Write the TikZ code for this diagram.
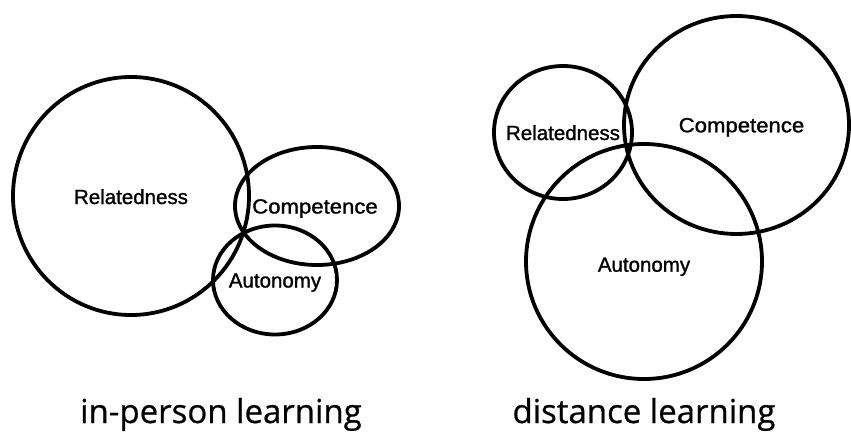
\documentclass[tikz,border=0pt]{standalone}
\usepackage{fontspec}
\setmainfont{Liberation Sans}
\newfontfamily\labelfont[FakeBold=1.2]{Liberation Sans}
\newfontfamily\captionfont[FakeBold=0.6]{Open Sans}
\usepackage{graphicx}
\tikzset{
  ring/.style={draw=black, line width=3.8pt},
  lbl/.style={anchor=base, inner sep=0pt, font=\labelfont\fontsize{20.5}{24}\selectfont},
  captiontext/.style={anchor=base, inner sep=0pt, font=\captionfont\fontsize{33}{38}\selectfont},
}
\begin{document}
\begin{tikzpicture}[x=1pt, y=-1pt]
\fill[white] (0,0) rectangle (851,433);
\useasboundingbox (0,0) rectangle (851,433);
% in-person learning
\draw[ring] (131,196) ellipse [x radius=118, y radius=119];
\draw[ring] (317,206) ellipse [x radius=82, y radius=59];
\draw[ring] (275,280) ellipse [x radius=62, y radius=54.5];
\node[lbl] (relA) at (131,204) {Relatedness};
\node[lbl] (comA) at (315,213.5) {\scalebox{1.08}[1]{Competence}};
\node[lbl] (autA) at (275,287.5) {Autonomy};
% distance learning
\draw[ring] (563,132.5) ellipse [x radius=69, y radius=66.5];
\draw[ring] (736.5,125) ellipse [x radius=112.5, y radius=109];
\draw[ring] (644,261.5) ellipse [x radius=118, y radius=117.5];
\node[lbl] (relB) at (563,140) {Relatedness};
\node[lbl] (comB) at (741.5,132.3) {\scalebox{1.08}[1]{Competence}};
\node[lbl] (autB) at (644,271.7) {Autonomy};
% captions
\node[captiontext] (capA) at (221,423) {in-person learning};
\node[captiontext] (capB) at (644,423) {distance learning};
\end{tikzpicture}
\end{document}
